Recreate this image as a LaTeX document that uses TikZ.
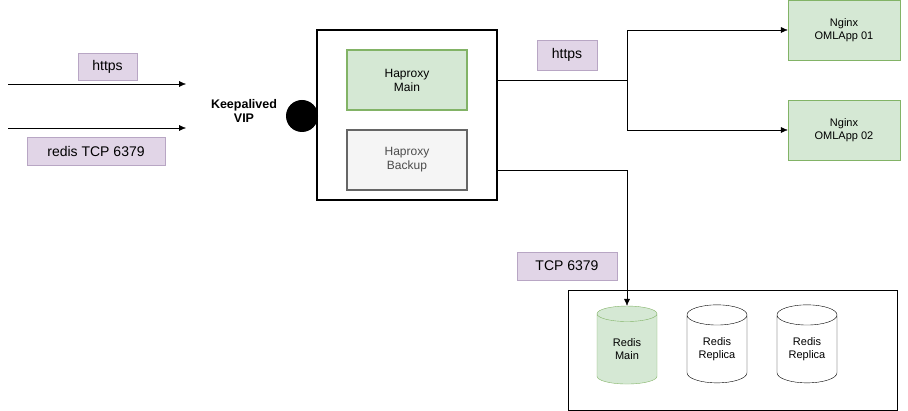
\documentclass[tikz,border=0pt]{standalone}
\usepackage{fontspec}
\setmainfont{Liberation Sans}
\usetikzlibrary{shapes.geometric,arrows.meta}
\definecolor{mainfill}{HTML}{D5E8D4}
\definecolor{mainline}{HTML}{82B366}
\definecolor{tagfill}{HTML}{E1D5E7}
\definecolor{tagline}{HTML}{B8A6C4}
\begin{document}
\begin{tikzpicture}[x=1pt,y=-1pt,
  % Styles
  label box/.style={draw=tagline,fill=tagfill,font=\fontsize{14}{16}\selectfont,inner sep=0pt},
  app box/.style={draw=mainline,fill=mainfill,font=\fontsize{11}{13}\selectfont,align=center,inner sep=0pt},
  db/.style={cylinder,shape border rotate=90,aspect=0.55,draw,minimum width=60,minimum height=78,align=center,font=\fontsize{11}{13}\selectfont,inner sep=0pt},
  link/.style={-{Latex[length=7pt,width=6pt]}}]
  \useasboundingbox (0,0) rectangle (908,411);

  % Incoming traffic
  \coordinate (inA) at (8,84);
  \coordinate (inB) at (8,128);
  \coordinate (vipA) at (186,84);
  \coordinate (vipB) at (186,128);
  \draw[link] (inA) -- (vipA);
  \draw[link] (inB) -- (vipB);
  \node[label box,minimum width=59,minimum height=27] (httpsin) at (107.5,66.5) {https};
  \node[label box,minimum width=138,minimum height=28] (redisin) at (96,151) {redis TCP 6379};

  % VIP
  \node[font=\fontsize{12.5}{14}\selectfont\bfseries,align=center] (vip) at (244,111) {Keepalived\\VIP};
  \fill (302,116) circle (16);

  % Haproxy
  \node[draw,line width=2pt,minimum width=180,minimum height=170,inner sep=0pt] (lb) at (407,115) {};
  \node[draw=mainline,fill=mainfill,line width=1.5pt,minimum width=120,minimum height=60,align=center,font=\fontsize{12}{14}\selectfont] (main) at (407,80) {Haproxy\\Main};
  \node[draw=black!60,fill=black!4,line width=1.5pt,minimum width=120,minimum height=60,align=center,font=\fontsize{12}{14}\selectfont,text=black!70] (backup) at (407,160) {Haproxy\\Backup};

  % Web tier
  \node[app box,minimum width=112,minimum height=60] (ng1) at (844,30) {Nginx\\OMLApp 01};
  \node[app box,minimum width=112,minimum height=60] (ng2) at (844,130) {Nginx\\OMLApp 02};
  \coordinate (split) at (627,80);
  \draw (lb.east |- split) -- (split);
  \draw[link] (split) |- (ng1.west);
  \draw[link] (split) |- (ng2.west);
  \node[label box,minimum width=60,minimum height=30] (httpsout) at (567,55) {https};

  % Redis tier
  \node[draw,minimum width=329,minimum height=120,inner sep=0pt] (cluster) at (732.5,350) {};
  \node[db,fill=mainfill,draw=mainline] (r1) at (627,349) {Redis\\Main};
  \node[db] (r2) at (717,349) {Redis\\Replica};
  \node[db] (r3) at (807,349) {Redis\\Replica};
  \draw[link] (lb.east |- 0,170) -| (r1.top);
  \node[label box,minimum width=100,minimum height=28] (tcp) at (567,266) {TCP 6379};
\end{tikzpicture}
\end{document}
